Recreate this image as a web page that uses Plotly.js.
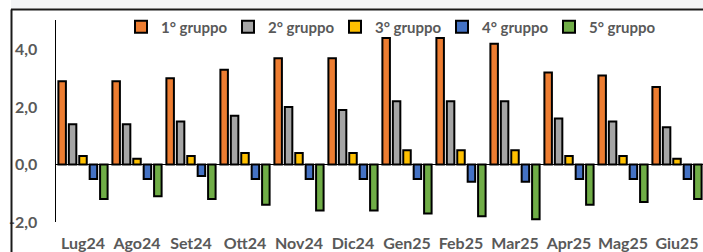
<!DOCTYPE html>
<html>
<head>
<meta charset="utf-8">
<script src="https://cdn.plot.ly/plotly-3.0.1.min.js"></script>
<style>html,body{margin:0;padding:0;background:#fff;}#chart{width:703px;height:252px;}</style>
</head>
<body>
<div id="chart"></div>
<script>
const categories = ["Lug24","Ago24","Set24","Ott24","Nov24","Dic24","Gen25","Feb25","Mar25","Apr25","Mag25","Giu25"];
const seriesNames = ["1° gruppo","2° gruppo","3° gruppo","4° gruppo","5° gruppo"];
const gruppo1 = [2.9, 2.9, 3.0, 3.3, 3.7, 3.7, 4.4, 4.4, 4.2, 3.2, 3.1, 2.7];
const gruppo2 = [1.4, 1.4, 1.5, 1.7, 2.0, 1.9, 2.2, 2.2, 2.2, 1.6, 1.5, 1.3];
const gruppo3 = [0.3, 0.2, 0.3, 0.4, 0.4, 0.4, 0.5, 0.5, 0.5, 0.3, 0.3, 0.2];
const gruppo4 = [-0.5, -0.5, -0.4, -0.5, -0.5, -0.5, -0.5, -0.6, -0.6, -0.5, -0.5, -0.5];
const gruppo5 = [-1.2, -1.1, -1.2, -1.4, -1.6, -1.6, -1.7, -1.8, -1.9, -1.4, -1.3, -1.2];
const yTicks = [-2, 0, 2, 4];
const yTickLabels = ["-2,0", "0,0", "2,0", "4,0"];

const colors = ["#ED7D31", "#A5A5A5", "#FFC000", "#4472C4", "#70AD47"];
const allSeries = [gruppo1, gruppo2, gruppo3, gruppo4, gruppo5];
const FONT = "Lato, 'Open Sans', sans-serif";

const data = allSeries.map((vals, i) => ({
  type: "bar",
  name: seriesNames[i],
  x: categories,
  y: vals,
  marker: {color: colors[i], line: {color: "#000000", width: 2}},
  hoverinfo: "skip"
}));

const W = 703, H = 252, ml = 56, mr = 0, mt = 20, mb = 30;
const pw = W - ml - mr, ph = H - mt - mb;
const px = p => (p - ml) / pw;
const py = p => (H - mb - p) / ph;

const layout = {
  width: W, height: H,
  margin: {l: ml, r: mr, t: mt, b: mb, pad: 0},
  paper_bgcolor: "#ffffff",
  plot_bgcolor: "rgba(0,0,0,0)",
  barmode: "group",
  bargap: 0.035,
  bargroupgap: 0.28,
  font: {family: FONT, size: 16, color: "#595959", weight: 700},
  showlegend: true,
  legend: {
    orientation: "h",
    x: px(121), xanchor: "left",
    y: py(27), yanchor: "middle",
    entrywidth: 62,
    font: {family: FONT, size: 15, color: "#595959", weight: 700},
    bgcolor: "rgba(0,0,0,0)",
    itemclick: false
  },
  xaxis: {
    type: "category",
    range: [-0.5, -0.5 + pw / 54],
    showgrid: false, zeroline: false, showline: false,
    ticks: "", ticklabelstandoff: 10,
    tickfont: {family: FONT, size: 16, color: "#595959", weight: 700},
    fixedrange: true
  },
  yaxis: {
    range: [-2, 5.03],
    tickvals: yTicks,
    ticktext: yTickLabels,
    showgrid: false,
    zeroline: true, zerolinecolor: "#000000", zerolinewidth: 1.5,
    showline: true, linecolor: "#000000", linewidth: 1.5,
    ticks: "", ticklabelstandoff: 14,
    tickfont: {family: FONT, size: 16, color: "#595959", weight: 700},
    fixedrange: true
  },
  shapes: [
    {type: "rect", xref: "paper", yref: "paper", x0: px(11), x1: px(703), y0: py(8.5), y1: py(0), fillcolor: "#f3f4f6", line: {width: 0}, layer: "below"},
    {type: "line", xref: "paper", yref: "paper", x0: px(11), x1: px(703), y0: py(9.5), y1: py(9.5), line: {color: "#1a1a1a", width: 2}},
    {type: "line", xref: "paper", yref: "paper", x0: px(11.5), x1: px(11.5), y0: py(9.5), y1: py(252), line: {color: "#1a1a1a", width: 2}}
  ]
};

Plotly.newPlot("chart", data, layout, {displayModeBar: false, staticPlot: true});
</script>
</body>
</html>
